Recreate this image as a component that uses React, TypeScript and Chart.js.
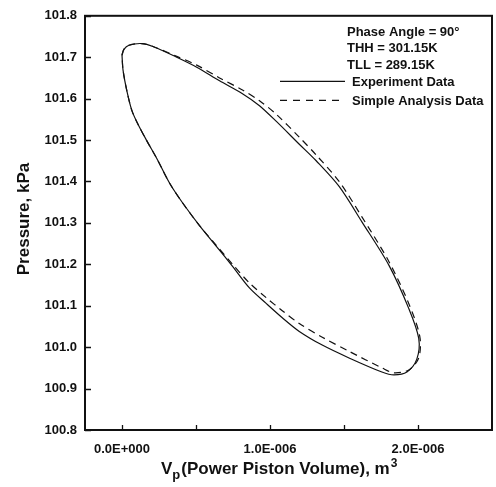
import React, { useEffect, useRef } from 'react';
import { Chart, registerables } from 'chart.js';

Chart.register(...registerables);

// Volume values in units of 1e-6 m^3, pressure in kPa (loop traced clockwise)
const EXP_V = [0.000, 0.013, 0.047, 0.135, 0.209, 0.370, 0.505, 0.659, 0.814, 0.929, 1.043, 1.198, 1.312, 1.467, 1.622, 1.803, 1.938, 2.005, 1.992, 1.925, 1.837, 1.756, 1.534, 1.353, 1.198, 1.083, 0.976, 0.861, 0.747, 0.639, 0.525, 0.410, 0.323, 0.236, 0.168, 0.108, 0.067, 0.034, 0.007, 0.000];
const EXP_P = [101.705, 101.719, 101.729, 101.733, 101.726, 101.700, 101.676, 101.643, 101.612, 101.583, 101.545, 101.490, 101.450, 101.388, 101.302, 101.198, 101.093, 101.021, 100.971, 100.940, 100.933, 100.940, 100.974, 101.005, 101.038, 101.071, 101.105, 101.143, 101.195, 101.243, 101.293, 101.348, 101.395, 101.455, 101.498, 101.538, 101.571, 101.617, 101.669, 101.705];
const SIM_V = [0.000, 0.013, 0.047, 0.135, 0.209, 0.370, 0.505, 0.659, 0.814, 0.929, 1.043, 1.198, 1.312, 1.467, 1.622, 1.803, 1.938, 2.012, 2.005, 1.938, 1.837, 1.756, 1.534, 1.353, 1.198, 1.083, 0.976, 0.861, 0.747, 0.639, 0.525, 0.410, 0.323, 0.236, 0.168, 0.108, 0.067, 0.034, 0.007, 0.000];
const SIM_P = [101.705, 101.719, 101.729, 101.733, 101.726, 101.702, 101.681, 101.650, 101.621, 101.595, 101.562, 101.507, 101.464, 101.400, 101.314, 101.207, 101.105, 101.026, 100.974, 100.945, 100.938, 100.950, 100.990, 101.024, 101.057, 101.088, 101.119, 101.155, 101.200, 101.245, 101.293, 101.348, 101.395, 101.455, 101.498, 101.538, 101.571, 101.617, 101.669, 101.705];

const VOL_UNIT = 1e-6;
const X_MIN = -0.25;
const X_MAX = 2.5;
const X_TICKS = [0, 0.5, 1, 1.5, 2];
const X_LABELED = [0, 1, 2];
const Y_MIN = 100.8;
const Y_MAX = 101.8;
const Y_TICKS = [100.8, 100.9, 101.0, 101.1, 101.2, 101.3, 101.4, 101.5, 101.6, 101.7, 101.8];
const INFO_LINES = ['Phase Angle = 90°', 'THH = 301.15K', 'TLL = 289.15K'];
const SERIES_NAMES = ['Experiment Data', 'Simple Analysis Data'];
const Y_TITLE = 'Pressure, kPa';
const X_TITLE_MAIN = 'V';
const X_TITLE_SUB = 'p';
const X_TITLE_REST = '(Power Piston Volume), m';
const X_TITLE_SUP = '3';

const FONT = '"Liberation Sans", Arial, Helvetica, sans-serif';
const INK = '#111';

function fmtSci(v: number): string {
  if (Math.abs(v) < 1e-15) return '0.0E+000';
  const e = Math.floor(Math.log10(Math.abs(v)) + 1e-9);
  const m = v / Math.pow(10, e);
  const sign = e < 0 ? '-' : '+';
  return m.toFixed(1) + 'E' + sign + String(Math.abs(e)).padStart(3, '0');
}

const decor = {
  id: 'decor',
  afterDraw(chart: any) {
    const { ctx, chartArea: a, scales } = chart;
    const x = scales.x;
    const y = scales.y;
    ctx.save();
    ctx.strokeStyle = INK;
    ctx.lineWidth = 2;
    ctx.strokeRect(a.left, a.top, a.right - a.left, a.bottom - a.top);
    ctx.lineWidth = 1.3;
    ctx.beginPath();
    X_TICKS.forEach((v) => {
      const px = Math.round(x.getPixelForValue(v * VOL_UNIT)) + 0.5;
      ctx.moveTo(px, a.bottom);
      ctx.lineTo(px, a.bottom - 5);
    });
    Y_TICKS.forEach((v) => {
      const py = Math.round(y.getPixelForValue(v)) + 0.5;
      ctx.moveTo(a.left, py);
      ctx.lineTo(a.left + 6, py);
    });
    ctx.stroke();

    // legend / info block
    ctx.fillStyle = INK;
    ctx.font = 'bold 13px ' + FONT;
    ctx.textAlign = 'left';
    ctx.textBaseline = 'alphabetic';
    const infoX = a.right - 145;
    INFO_LINES.forEach((t, i) => ctx.fillText(t, infoX, a.top + 20 + i * 16.5));
    const legX = a.right - 140;
    const sampleL = a.right - 212;
    const sampleR = a.right - 147;
    const rows = [a.top + 70, a.top + 89];
    SERIES_NAMES.forEach((t, i) => {
      ctx.fillText(t, legX, rows[i]);
      ctx.beginPath();
      ctx.lineWidth = 1.2;
      ctx.setLineDash(i === 0 ? [] : [7, 6]);
      ctx.moveTo(sampleL, rows[i] - 4.5);
      ctx.lineTo(sampleR, rows[i] - 4.5);
      ctx.stroke();
    });
    ctx.setLineDash([]);

    // y title
    ctx.save();
    ctx.translate(24, 219);
    ctx.rotate(-Math.PI / 2);
    ctx.font = 'bold 17px ' + FONT;
    ctx.textAlign = 'center';
    ctx.textBaseline = 'middle';
    ctx.fillText(Y_TITLE, 0, 0);
    ctx.restore();

    // x title with subscript / superscript
    const base = 474;
    let cx = 161;
    ctx.textAlign = 'left';
    ctx.font = 'bold 17px ' + FONT;
    ctx.fillText(X_TITLE_MAIN, cx, base);
    cx += ctx.measureText(X_TITLE_MAIN).width;
    ctx.font = 'bold 13px ' + FONT;
    ctx.fillText(X_TITLE_SUB, cx, base + 5);
    cx += ctx.measureText(X_TITLE_SUB).width + 1;
    ctx.font = 'bold 17px ' + FONT;
    ctx.fillText(X_TITLE_REST, cx, base);
    cx += ctx.measureText(X_TITLE_REST).width + 1;
    ctx.font = 'bold 12px ' + FONT;
    ctx.fillText(X_TITLE_SUP, cx, base - 7);
    ctx.restore();
  },
};

export default function App() {
  const ref = useRef<HTMLCanvasElement | null>(null);
  useEffect(() => {
    if (!ref.current) return;
    const expData = EXP_V.map((v, i) => ({ x: v * VOL_UNIT, y: EXP_P[i] }));
    const simData = SIM_V.map((v, i) => ({ x: v * VOL_UNIT, y: SIM_P[i] }));
    const chart = new Chart(ref.current, {
      type: 'line',
      data: {
        datasets: [
          {
            label: SERIES_NAMES[0],
            data: expData,
            borderColor: INK,
            borderWidth: 1.2,
            pointRadius: 0,
            tension: 0.3,
            fill: false,
          },
          {
            label: SERIES_NAMES[1],
            data: simData,
            borderColor: INK,
            borderWidth: 1.2,
            borderDash: [7, 5],
            pointRadius: 0,
            tension: 0.3,
            fill: false,
          },
        ],
      },
      options: {
        animation: false,
        responsive: false,
        maintainAspectRatio: false,
        layout: { padding: { left: 0, top: 10, right: 4, bottom: 0 } },
        plugins: { legend: { display: false }, tooltip: { enabled: false }, title: { display: false } },
        scales: {
          x: {
            type: 'linear',
            min: X_MIN * VOL_UNIT,
            max: X_MAX * VOL_UNIT,
            grid: { display: false, drawTicks: false },
            border: { display: false },
            afterBuildTicks: (s: any) => {
              s.ticks = X_LABELED.map((v) => ({ value: v * VOL_UNIT }));
            },
            afterFit: (s: any) => {
              s.height = 57;
            },
            ticks: {
              autoSkip: false,
              maxRotation: 0,
              padding: 12,
              color: INK,
              font: { family: FONT, size: 13, weight: 'bold' },
              callback: (v: any) => fmtSci(Number(v)),
            },
          },
          y: {
            type: 'linear',
            min: Y_MIN,
            max: Y_MAX,
            grid: { display: false, drawTicks: false },
            border: { display: false },
            afterBuildTicks: (s: any) => {
              s.ticks = Y_TICKS.map((v) => ({ value: v }));
            },
            afterFit: (s: any) => {
              s.width = 85;
            },
            ticks: {
              autoSkip: false,
              padding: 8,
              color: INK,
              font: { family: FONT, size: 13, weight: 'bold' },
              callback: (v: any) => Number(v).toFixed(1),
            },
          },
        },
      },
      plugins: [decor],
    } as any);
    return () => chart.destroy();
  }, []);
  return (
    <div style={{ position: 'absolute', left: 0, top: 0, width: 496, height: 487, background: '#fff' }}>
      <canvas ref={ref} width={496} height={487} style={{ display: 'block' }} />
    </div>
  );
}
